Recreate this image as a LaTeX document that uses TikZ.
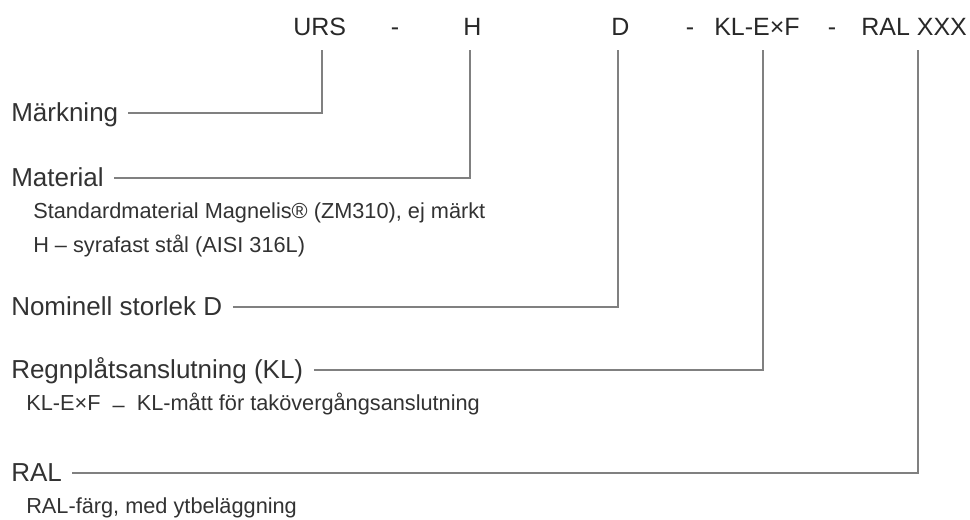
\documentclass[tikz,border=0pt]{standalone}
\usepackage{fontspec}
\setmainfont{Liberation Sans}
\usepackage{tikz}

\definecolor{txtgray}{RGB}{50,50,50}
\definecolor{codegray}{RGB}{40,40,40}
\definecolor{linegray}{RGB}{128,128,128}

\tikzset{
  codelbl/.style={anchor=base west,inner sep=0.75pt,text=codegray,font=\fontsize{18.75}{22}\selectfont},
  mainlbl/.style={anchor=base west,inner sep=0.75pt,text=txtgray,font=\fontsize{19.5}{23}\selectfont},
  sublbl/.style={anchor=base west,inner sep=0.75pt,text=txtgray,font=\fontsize{16.3}{19}\selectfont},
  leader/.style={draw=linegray,line width=1pt}
}

\begin{document}
\begin{tikzpicture}[x=0.75pt,y=0.75pt,yscale=-1,xscale=1]
        \useasboundingbox (0,0) rectangle (970,519);

        % Text Node
        \node [codelbl] (urs) at (292,35) {URS};
        % Text Node
        \node [codelbl,anchor=base] (dash1) at (395,35) {-};
        % Text Node
        \node [codelbl] (mat) at (462,35) {H};
        % Text Node
        \node [codelbl] (dim) at (610,35) {D};
        % Text Node
        \node [codelbl,anchor=base] (dash2) at (690,35) {-};
        % Text Node
        \node [codelbl] (kl) at (713,35) {KL-E×F};
        % Text Node
        \node [codelbl,anchor=base] (dash3) at (832,35) {-};
        % Text Node
        \node [codelbl] (ral) at (860,35) {RAL XXX};

        % tick tops under the code
        \coordinate (urs-t) at (322,50);
        \coordinate (mat-t) at (470,50);
        \coordinate (dim-t) at (618,50);
        \coordinate (kl-t) at (763,50);
        \coordinate (ral-t) at (918,50);

        % Text Node
        \node [mainlbl] (markning) at (10,121) {Märkning};
        % Text Node
        \node [mainlbl] (material) at (10,186) {Material};
        % Text Node
        \node [sublbl] (std) at (32,218) {Standardmaterial Magnelis® (ZM310), ej märkt};
        % Text Node
        \node [sublbl] (syra) at (32,252) {H – syrafast stål (AISI 316L)};
        % Text Node
        \node [mainlbl] (storlek) at (10,315) {Nominell storlek D};
        % Text Node
        \node [mainlbl] (regn) at (10,378) {Regnplåtsanslutning (KL)};
        % Text Node
        \node [sublbl] (klmatt) at (25,410) {KL-E×F \;\raisebox{-2pt}{–}\; KL-mått för takövergångsanslutning};
        % Text Node
        \node [mainlbl] (ralrow) at (10,481) {RAL};
        % Text Node
        \node [sublbl] (ralfarg) at (25,513) {RAL-färg, med ytbeläggning};

        %Straight Lines
        \draw [leader] ([xshift=6.5pt,yshift=-6pt]markning.base east) -| (urs-t);
        %Straight Lines
        \draw [leader] ([xshift=7pt,yshift=-6pt]material.base east) -| (mat-t);
        %Straight Lines
        \draw [leader] ([xshift=7pt,yshift=-6pt]storlek.base east) -| (dim-t);
        %Straight Lines
        \draw [leader] ([xshift=7pt,yshift=-6pt]regn.base east) -| (kl-t);
        %Straight Lines
        \draw [leader] ([xshift=7pt,yshift=-6pt]ralrow.base east) -| (ral-t);

\end{tikzpicture}
\end{document}
